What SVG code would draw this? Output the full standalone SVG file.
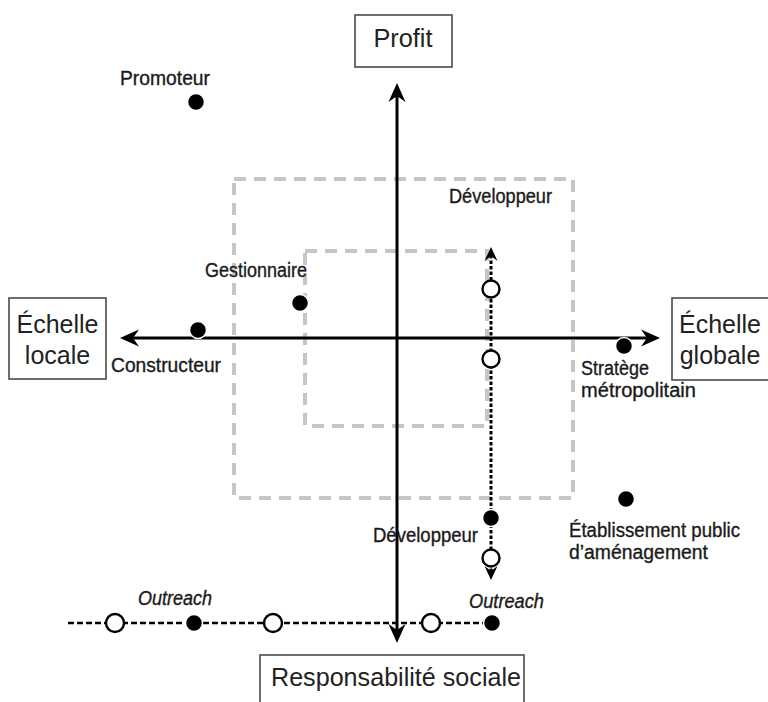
<svg xmlns="http://www.w3.org/2000/svg" width="768" height="702" viewBox="0 0 768 702">
<style>
.box{fill:#fff;stroke:#4a4a4a;stroke-width:1.6}
.bt{font-family:"Liberation Sans",Arial,sans-serif;font-size:25px;fill:#222}
.lb{font-family:"Liberation Sans Narrow","Liberation Sans",Arial,sans-serif;font-size:20px;fill:#1a1a1a;stroke:#1a1a1a;stroke-width:0.35}
.it{font-style:italic}
.zone{fill:none;stroke:#c6c6c6;stroke-width:4;stroke-dasharray:12 8}
.axis{fill:none;stroke:#000;stroke-width:3}
.dot{fill:#000;stroke:#fff;stroke-width:1.5}
.open{fill:#fff;stroke:#000;stroke-width:2.4}
.dotted{fill:none;stroke:#000;stroke-width:3;stroke-dasharray:3.5 2}
.dashed{fill:none;stroke:#000;stroke-width:2.5;stroke-dasharray:6 3}
</style>
<defs>
<marker id="ah" viewBox="-20 -10 22 20" refX="-12" refY="0" markerWidth="22" markerHeight="20" markerUnits="userSpaceOnUse" orient="auto-start-reverse">
<path d="M0,0 L-19,-8.5 L-13,0 L-19,8.5 Z" fill="#000"/>
</marker>
<marker id="ahs" viewBox="-16 -8 18 16" refX="-8" refY="0" markerWidth="18" markerHeight="16" markerUnits="userSpaceOnUse" orient="auto-start-reverse">
<path d="M0,0 L-14,-6.5 L-9,0 L-14,6.5 Z" fill="#000"/>
</marker>
</defs>
<rect width="768" height="702" fill="#fff"/>

<g id="zones">
<rect class="zone" x="234" y="179" width="339" height="319"/>
<rect class="zone" x="305" y="251" width="182" height="175"/>
</g>

<g id="connectors">
<line class="axis" x1="397" y1="631" x2="397" y2="95" marker-start="url(#ah)" marker-end="url(#ah)"/>
<line class="axis" x1="132" y1="338" x2="648" y2="338" marker-start="url(#ah)" marker-end="url(#ah)"/>
<line class="dotted" x1="491" y1="572" x2="491" y2="255" marker-start="url(#ahs)" marker-end="url(#ahs)"/>
<line class="dashed" x1="68" y1="623" x2="492" y2="623"/>
</g>

<g id="profit">
<rect class="box" x="355" y="15" width="97" height="52"/>
<text class="bt" x="403" y="47" text-anchor="middle" font-size="24" textLength="59" lengthAdjust="spacingAndGlyphs">Profit</text>
</g>
<g id="echelle-locale">
<rect class="box" x="9" y="298" width="97" height="81"/>
<text class="bt" x="57.5" y="333" text-anchor="middle">Échelle</text>
<text class="bt" x="57.5" y="364" text-anchor="middle">locale</text>
</g>
<g id="echelle-globale">
<rect class="box" x="672" y="298" width="98" height="82"/>
<text class="bt" x="720" y="333" text-anchor="middle">Échelle</text>
<text class="bt" x="720" y="364" text-anchor="middle">globale</text>
</g>
<g id="responsabilite">
<rect class="box" x="260" y="655" width="264" height="60"/>
<text class="bt" x="396" y="686" text-anchor="middle" textLength="250" lengthAdjust="spacingAndGlyphs">Responsabilité sociale</text>
</g>

<g id="promoteur">
<circle class="dot" cx="196" cy="102" r="8.5"/>
<text class="lb" x="120" y="85" textLength="90" lengthAdjust="spacingAndGlyphs">Promoteur</text>
</g>
<g id="gestionnaire">
<circle class="dot" cx="300" cy="303" r="8.5"/>
<text class="lb" x="205" y="277" textLength="102" lengthAdjust="spacingAndGlyphs">Gestionnaire</text>
</g>
<g id="constructeur">
<circle class="dot" cx="198" cy="330" r="8.5"/>
<text class="lb" x="111" y="372" textLength="110" lengthAdjust="spacingAndGlyphs">Constructeur</text>
</g>
<g id="strategie">
<circle class="dot" cx="624" cy="346" r="8.5"/>
<text class="lb" x="581" y="375" textLength="68" lengthAdjust="spacingAndGlyphs">Stratège</text>
<text class="lb" x="581" y="397" textLength="115" lengthAdjust="spacingAndGlyphs">métropolitain</text>
</g>
<g id="etablissement">
<circle class="dot" cx="626" cy="499" r="8.5"/>
<text class="lb" x="569" y="537" textLength="171" lengthAdjust="spacingAndGlyphs">Établissement public</text>
<text class="lb" x="569" y="559" textLength="139" lengthAdjust="spacingAndGlyphs">d’aménagement</text>
</g>
<g id="developpeur-haut">
<circle class="open" cx="491" cy="289" r="8.5"/>
<circle class="open" cx="491" cy="359" r="8.5"/>
<text class="lb" x="449" y="203" textLength="103" lengthAdjust="spacingAndGlyphs">Développeur</text>
</g>
<g id="developpeur-bas">
<circle class="dot" cx="491" cy="518" r="8.5"/>
<circle class="open" cx="491" cy="558" r="8.5"/>
<text class="lb" x="373" y="542" textLength="105" lengthAdjust="spacingAndGlyphs">Développeur</text>
</g>
<g id="outreach">
<circle class="open" cx="115" cy="623" r="9"/>
<circle class="dot" cx="194" cy="623" r="8.5"/>
<circle class="open" cx="273" cy="623" r="9"/>
<circle class="open" cx="431" cy="623" r="9"/>
<circle class="dot" cx="492" cy="623" r="8.5"/>
<text class="lb it" x="138" y="605" textLength="74" lengthAdjust="spacingAndGlyphs">Outreach</text>
<text class="lb it" x="469" y="608" textLength="75" lengthAdjust="spacingAndGlyphs">Outreach</text>
</g>
</svg>
